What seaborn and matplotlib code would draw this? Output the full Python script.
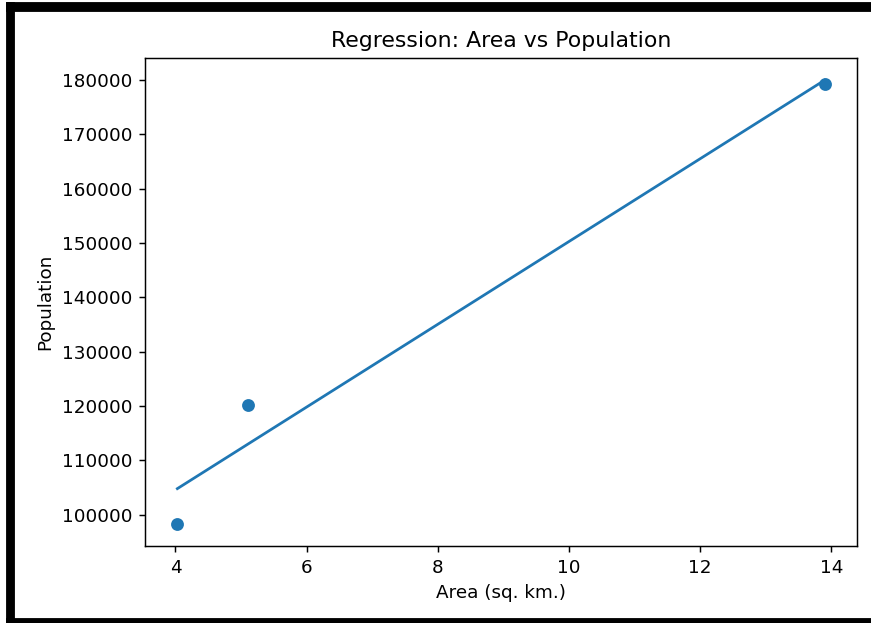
import matplotlib
matplotlib.use("Agg")
import matplotlib.pyplot as plt
import seaborn as sns
import pandas as pd
from matplotlib.patches import Rectangle

# Data
area = [4.03, 5.1, 13.9]
population = [98300, 120200, 179200]

df = pd.DataFrame({"Area": area, "Population": population})

W, H = 871, 623
DPI = 132
fig = plt.figure(figsize=(W / DPI, H / DPI), dpi=DPI)
ax = fig.add_axes([145 / W, 1 - 546 / H, (857 - 145) / W, (546 - 58) / H])

sns.regplot(data=df, x="Area", y="Population", ci=None, ax=ax,
            color="#1f77b4", scatter_kws={"alpha": 1},
            line_kws={"lw": 1.5})

ax.set_title("Regression: Area vs Population")
ax.set_xlabel("Area (sq. km.)")
ax.set_ylabel("Population")

# black screenshot frame
def px_rect(x0, y0, x1, y1):
    fig.patches.append(Rectangle((x0 / W, 1 - y1 / H), (x1 - x0) / W, (y1 - y0) / H,
                                 transform=fig.transFigure, color="black",
                                 zorder=10))

px_rect(7, 3, 14, 623)
px_rect(7, 3, 871, 11)
px_rect(7, 619, 871, 623)

fig.savefig("out.png", dpi=DPI)
